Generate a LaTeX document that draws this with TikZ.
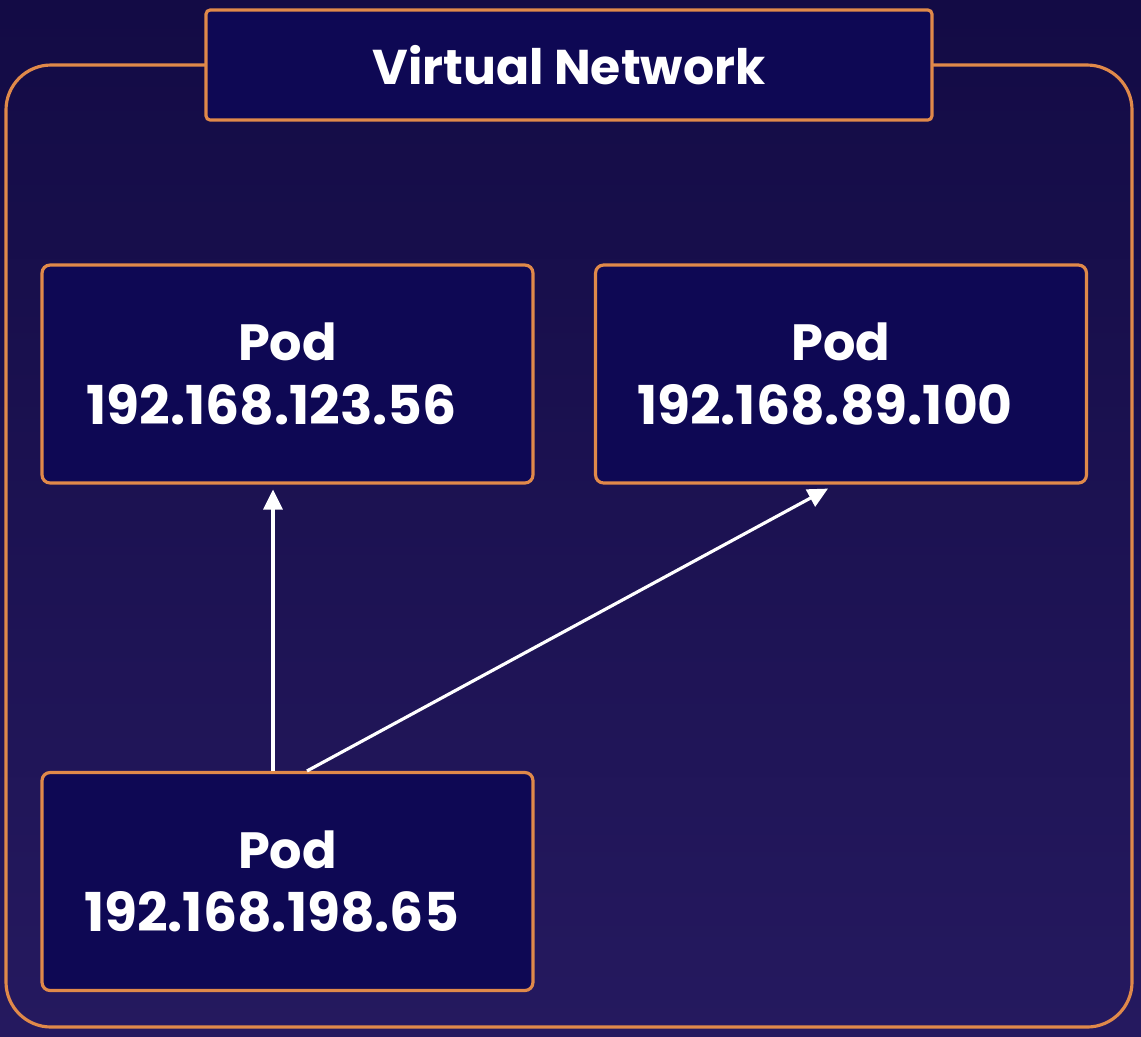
\documentclass[tikz,border=0pt]{standalone}
\usepackage{fontspec}
\setmainfont{Poppins}
\usetikzlibrary{arrows.meta, positioning}
\definecolor{bgtop}{HTML}{130B45}
\definecolor{bgbot}{HTML}{25195F}
\definecolor{boxfill}{HTML}{0E0854}
\definecolor{edge}{HTML}{E0894A}
\newcommand{\ipaddr}[1]{{\fontsize{30.5}{36}\selectfont #1}\hspace*{0.64cm}}
\tikzset{
	podbox/.style={draw=edge, line width=1.8pt, fill=boxfill, rounded corners=0.16cm, minimum width=9.82cm, minimum height=4.36cm, inner sep=0pt, align=center, text=white, font=\fontsize{29}{36}\selectfont\bfseries},
	link/.style={white, line width=1.8pt, -{Triangle[length=0.4cm, width=0.38cm]}}
}

\begin{document}
\begin{tikzpicture}[x=0.02cm, y=-0.02cm]
	\shade[top color=bgtop, bottom color=bgbot] (0,0) rectangle (1141,1036);
	\useasboundingbox (0,0) rectangle (1141,1036);
	\draw[edge, line width=1.8pt, rounded corners=0.9cm] (6,65) rectangle (1132,1027);
	\node[podbox, minimum width=14.52cm, minimum height=2.2cm, rounded corners=0.08cm, font=\fontsize{27.8}{34}\selectfont\bfseries] (title) at (569,65) {Virtual Network};
	\node[podbox] (podA) at (287.5,374) {Pod\\\ipaddr{192.168.123.56}};
	\node[podbox] (podB) at (841,374) {Pod\\\ipaddr{192.168.89.100}};
	\node[podbox] (podC) at (287.5,881.5) {Pod\\\ipaddr{192.168.198.65}};
	\draw[link] ([xshift=-0.29cm]podC.north) -- ([xshift=-0.29cm, yshift=-0.1cm]podA.south);
	\draw[link] ([xshift=0.39cm]podC.north) -- ([xshift=-0.26cm, yshift=-0.08cm]podB.south);
\end{tikzpicture}
\end{document}
